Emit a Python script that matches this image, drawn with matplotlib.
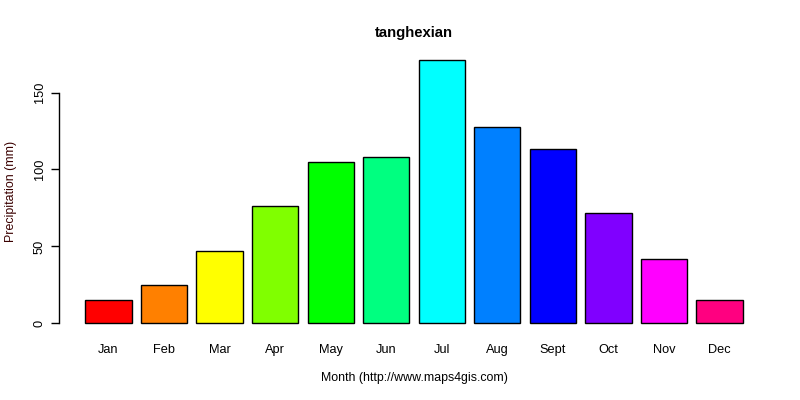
import matplotlib
matplotlib.use("Agg")
import matplotlib.pyplot as plt
import numpy as np

plt.rcParams['font.family'] = ['Liberation Sans', 'DejaVu Sans']

months = ["Jan", "Feb", "Mar", "Apr", "May", "Jun", "Jul", "Aug", "Sept", "Oct", "Nov", "Dec"]
precip = [15, 25, 47, 76, 105, 108, 171.4, 127.3, 113.6, 72, 42, 15]
bar_colors = ["#FF0000", "#FF8000", "#FFFF00", "#80FF00", "#00FF00", "#00FF80",
              "#00FFFF", "#0080FF", "#0000FF", "#8000FF", "#FF00FF", "#FF0080"]
yticks = [0, 50, 100, 150]

fig = plt.figure(figsize=(8, 4), dpi=100)
ax = fig.add_axes([59 / 800, 66 / 400, 710 / 800, 285 / 400])

# R style barplot: width 1, space 0.2
x = 0.2 + 1.2 * np.arange(len(months)) + 0.5
ax.bar(x, precip, width=1.0, color=bar_colors, edgecolor="black", linewidth=1.0)

xmin, xmax = 0.2, 0.2 + 1.2 * len(months) - 0.2
pad = 0.04 * (xmax - xmin)
ax.set_xlim(xmin - pad, xmax + pad)
ymax = max(precip)
ax.set_ylim(-0.04 * ymax, ymax * 1.04)

for s in ["top", "right", "bottom"]:
    ax.spines[s].set_visible(False)
ax.spines["left"].set_bounds(0, 150)
ax.spines["left"].set_linewidth(1.0)

ax.set_xticks(x)
ax.set_xticklabels(months, fontsize=9.2)
ax.tick_params(axis="x", length=0, pad=7)
ax.set_yticks(yticks)
ax.set_yticklabels([str(t) for t in yticks], fontsize=9.2, rotation=90, va="center")
ax.tick_params(axis="y", length=5.5, width=1.0, pad=4)

ax.set_title("tanghexian", fontsize=10.7, fontweight="bold", pad=9)
ax.set_xlabel("Month (http://www.maps4gis.com)", fontsize=8.9, labelpad=12)
ax.set_ylabel("Precipitation (mm)", fontsize=8.9, color="#3a0000", labelpad=12)

fig.savefig("out.png", dpi=100)
